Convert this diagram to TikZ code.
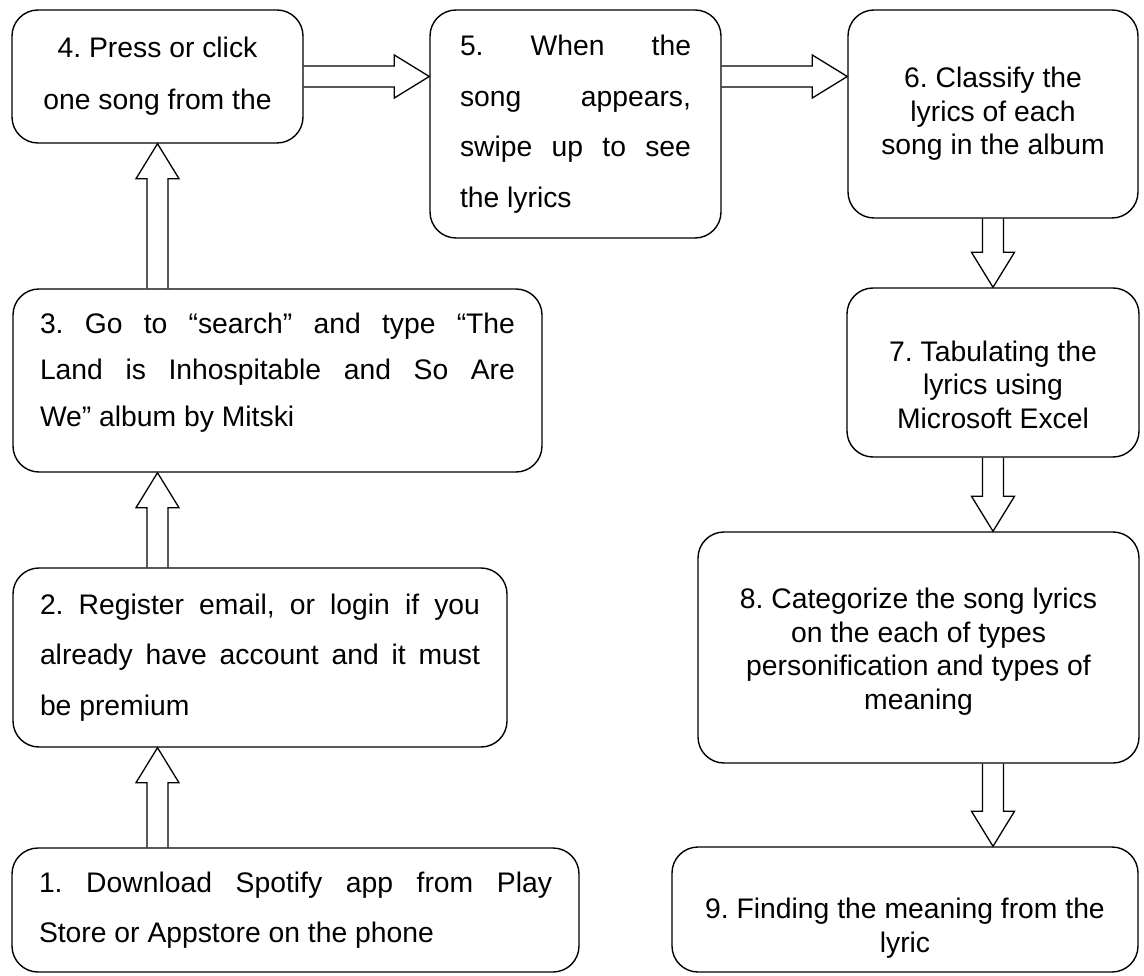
\documentclass[tikz,border=0pt]{standalone}
\usepackage{fontspec}
\setmainfont{Liberation Sans}
\usetikzlibrary{calc}
\frenchspacing

% hollow block arrow from #1 to #2
\newcommand{\hollowarrow}[2]{%
  \coordinate (hb) at ($(#2)!35pt!(#1)$);
  \draw[blockarrow] ($(#1)!10.5pt!90:(#2)$) -- ($(hb)!10.5pt!90:(#2)$)
    -- ($(hb)!21.5pt!90:(#2)$) -- (#2) -- ($(hb)!21.5pt!-90:(#2)$)
    -- ($(hb)!10.5pt!-90:(#2)$) -- ($(#1)!10.5pt!-90:(#2)$);
}

\begin{document}
\begin{tikzpicture}[%
      x=1pt, y=-1pt,
      stepnode/.style={draw, rounded corners=26pt, line width=1.4pt, inner ysep=0pt},
      leftbox/.style={stepnode, inner xsep=27pt, align=justify,
        font=\fontsize{28.3}{50.5}\selectfont},
      midbox/.style={stepnode, inner xsep=0pt, align=center,
        font=\fontsize{28.3}{33.5}\selectfont},
      blockarrow/.style={line width=1.3pt, line join=miter},
      ]
      \useasboundingbox (0,0) rectangle (1144,976);

      % left column
      \node[leftbox, text width=513pt, minimum height=124pt] (s1) at (295.5,910)
        {1. Download Spotify app from Play\linebreak Store or Appstore on the phone};
      \node[leftbox, text width=440pt, minimum height=179pt] (s2) at (260,657.5)
        {2. Register email, or login if you\linebreak already have account and it must\linebreak be premium};
      \node[leftbox, text width=475pt, minimum height=183pt,
        font=\fontsize{28.3}{46.5}\selectfont] (s3) at (277.5,380.5)
        {3. Go to “search” and type “The\linebreak Land is Inhospitable and So Are\linebreak We” album by Mitski\rule[-22pt]{0pt}{22pt}};
      \node[stepnode, inner xsep=0pt, align=center, minimum width=291pt, minimum height=133pt,
        font=\fontsize{28.3}{52}\selectfont] (s4) at (157.5,76.5)
        {4. Press or click\\one song from the};

      % top middle
      \node[leftbox, inner xsep=30pt, text width=231pt, minimum height=228pt] (s5) at (575.5,124)
        {5. When the\linebreak song appears,\linebreak swipe up to see\linebreak the lyrics};

      % right column
      \node[midbox, minimum width=290pt, minimum height=208pt] (s6) at (993,114)
        {6. Classify the\\lyrics of each\\song in the album};
      \node[midbox, minimum width=292pt, minimum height=169pt] (s7) at (993,372.5)
        {\rule{0pt}{44.6pt}7. Tabulating the\\lyrics using\\Microsoft Excel};
      \node[midbox, minimum width=441pt, minimum height=231pt] (s8) at (918.5,647.5)
        {\rule{0pt}{28.6pt}8. Categorize the song lyrics\\on the each of types\\personification and types of\\meaning};
      \node[midbox, minimum width=466pt, minimum height=125pt] (s9) at (905,909.5)
        {\rule{0pt}{58pt}9. Finding the meaning from the\\lyric};

      \hollowarrow{s1.north -| s4}{s2.south -| s4}
      \hollowarrow{s2.north -| s4}{s3.south -| s4}
      \hollowarrow{s3.north -| s4}{s4.south}
      \hollowarrow{s4.east}{s5.west |- s4}
      \hollowarrow{s5.east |- s4}{s6.west |- s4}
      \hollowarrow{s6.south}{s7.north}
      \hollowarrow{s7.south}{s8.north -| s7}
      \hollowarrow{s8.south -| s7}{s9.north -| s7}
\end{tikzpicture}
\end{document}
